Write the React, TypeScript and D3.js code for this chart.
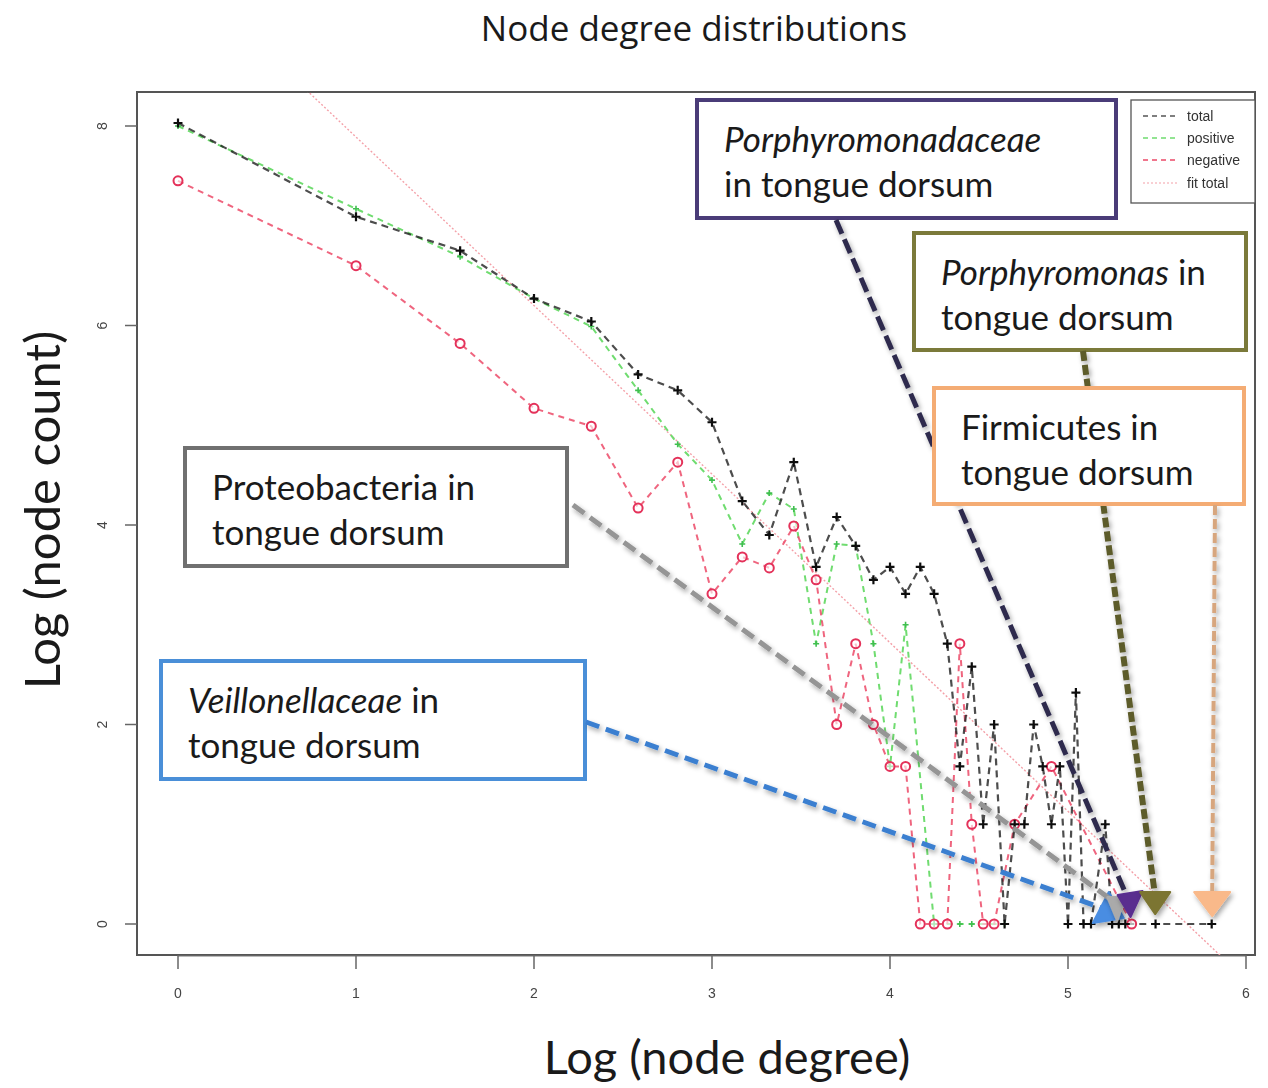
import React from "react";
import * as d3 from "d3";

// ---- data: log2 node degree (x) vs log2 node count (y) ----
const xTicks = [0, 1, 2, 3, 4, 5, 6];
const yTicks = [0, 2, 4, 6, 8];

const totalDegree = [1, 2, 3, 4, 5, 6, 7, 8, 9, 10, 11, 12, 13, 14, 15, 16, 17, 18, 19, 20, 21, 22, 23, 24, 25, 26, 27, 28, 29, 30, 31, 32, 33, 34, 35, 37, 38, 39, 40, 45, 56];
const totalLogCount = [8.03, 7.09, 6.75, 6.27, 6.04, 5.51, 5.35, 5.03, 4.24, 3.9, 4.63, 3.58, 4.08, 3.79, 3.45, 3.58, 3.31, 3.58, 3.31, 2.81, 1.58, 2.58, 1, 2, 0, 1, 1, 2, 1.58, 1, 1.58, 0, 2.32, 0, 0, 1, 0, 0, 0, 0, 0];

const positiveDegree = [1, 2, 3, 4, 5, 6, 7, 8, 9, 10, 11, 12, 13, 14, 15, 16, 17, 19, 21, 22, 25];
const positiveLogCount = [8.0, 7.17, 6.69, 6.27, 5.99, 5.35, 4.81, 4.45, 3.81, 4.32, 4.16, 2.81, 3.81, 3.79, 2.81, 1.58, 3.0, 0, 0, 0, 0];

const negativeDegree = [1, 2, 3, 4, 5, 6, 7, 8, 9, 10, 11, 12, 13, 14, 15, 16, 17, 18, 19, 20, 21, 22, 23, 24, 26, 30, 41];
const negativeLogCount = [7.45, 6.6, 5.82, 5.17, 4.99, 4.17, 4.63, 3.31, 3.68, 3.57, 3.99, 3.45, 2, 2.81, 2, 1.58, 1.58, 0, 0, 0, 2.81, 1, 0, 0, 1, 1.58, 0];

const fitIntercept = 9.58;
const fitSlope = -1.69;

const legendLabels = ["total", "positive", "negative", "fit total"];

type Seg = { text: string; italic?: boolean };
type Note = {
  lines: Seg[][];
  box: [number, number, number, number];
  border: string;
  from: [number, number];
  tip: [number, number]; // data coordinates where the arrow lands
  stroke: string;
  strokeWidth: number;
  dash: string;
  head: string;
  headShape: [number, number][];
};

// annotation callouts
const notes: Note[] = [
  {
    lines: [[{ text: "Veillonellaceae", italic: true }, { text: " in" }], [{ text: "tongue dorsum" }]],
    box: [161, 661, 424, 118],
    border: "#4a8fd8",
    from: [586, 722],
    tip: [5.19, 0.16],
    stroke: "#3b7fd0",
    strokeWidth: 5,
    dash: "14 7",
    head: "#4a8de2",
    headShape: [[-9, 15], [7, -16], [22, 10]],
  },
  {
    lines: [[{ text: "Proteobacteria in" }], [{ text: "tongue dorsum" }]],
    box: [185, 448, 382, 118],
    border: "#707070",
    from: [573, 505],
    tip: [5.26, 0.22],
    stroke: "#959595",
    strokeWidth: 5,
    dash: "14 7",
    head: "#aaaaaa",
    headShape: [[-7, -5], [11, -5], [3, 19]],
  },
  {
    lines: [[{ text: "Porphyromonadaceae", italic: true }], [{ text: "in tongue dorsum" }]],
    box: [697, 100, 419, 118],
    border: "#4a3c78",
    from: [836, 220],
    tip: [5.34, 0.24],
    stroke: "#2e2c4e",
    strokeWidth: 5,
    dash: "15 6",
    head: "#5a2e8f",
    headShape: [[-11, -5], [14, -9], [2, 17]],
  },
  {
    lines: [[{ text: "Porphyromonas", italic: true }, { text: " in" }], [{ text: "tongue dorsum" }]],
    box: [914, 233, 332, 117],
    border: "#7b7a3a",
    from: [1083, 351],
    tip: [5.49, 0.27],
    stroke: "#5d5b2c",
    strokeWidth: 6,
    dash: "10 4",
    head: "#7b7533",
    headShape: [[-15, -5], [15, -5], [0, 17]],
  },
  {
    lines: [[{ text: "Firmicutes in" }], [{ text: "tongue dorsum" }]],
    box: [934, 388, 310, 116],
    border: "#f4ac74",
    from: [1215, 505],
    tip: [5.81, 0.27],
    stroke: "#d7a67e",
    strokeWidth: 4,
    dash: "10 4",
    head: "#f9b98a",
    headShape: [[-18, -5], [18, -5], [0, 19]],
  },
];

const frame = { left: 137, right: 1255, top: 92, bottom: 955 };

export default function App() {
  const x = d3.scaleLinear().domain([0, 6]).range([178, 1246]);
  const y = d3.scaleLinear().domain([0, 8]).range([924, 126]);
  const line = d3
    .line<[number, number]>()
    .x((d) => x(d[0]))
    .y((d) => y(d[1]));

  const toPts = (deg: number[], lc: number[]): [number, number][] =>
    deg.map((k, i) => [Math.log2(k), lc[i]] as [number, number]);

  const total = toPts(totalDegree, totalLogCount);
  const positive = toPts(positiveDegree, positiveLogCount);
  const negative = toPts(negativeDegree, negativeLogCount);
  const fitPts: [number, number][] = [-0.5, 6.5].map((v) => [v, fitIntercept + fitSlope * v]);

  const sans = "Lato, 'Open Sans', sans-serif";
  const narrow = "'Liberation Sans Narrow', 'Liberation Sans', Arial, sans-serif";

  const totalColor = "#1e1e1e";
  const posColor = "#6fdc6f";
  const negColor = "#ec4a68";
  const fitColor = "#f4a0a8";

  const legendY = [116, 138, 160, 183];
  const legendStyles = [
    { c: "#555", dash: "5 4", w: 1.5 },
    { c: posColor, dash: "5 4", w: 1.5 },
    { c: negColor, dash: "5 4", w: 1.5 },
    { c: fitColor, dash: "2 2", w: 1.2 },
  ];

  return (
    <svg
      width={1268}
      height={1088}
      style={{ position: "absolute", left: 0, top: 0, background: "#fff" }}
      fontFamily={sans}
    >
      <defs>
        <clipPath id="plotClip">
          <rect x={frame.left} y={frame.top} width={frame.right - frame.left} height={frame.bottom - frame.top} />
        </clipPath>
        <filter id="shadow" x="-20%" y="-20%" width="140%" height="140%">
          <feDropShadow dx="2" dy="3" stdDeviation="2.5" floodColor="#000" floodOpacity="0.35" />
        </filter>
        <filter id="soft" x="-5%" y="-5%" width="110%" height="110%">
          <feGaussianBlur stdDeviation="0.5" />
        </filter>
      </defs>

      {/* title */}
      <text x={694} y={41} textAnchor="middle" fontSize={35} fontFamily="'Open Sans', Lato, sans-serif" fill="#1a1a1a">
        Node degree distributions
      </text>

      {/* axis titles */}
      <text x={727} y={1074} textAnchor="middle" fontSize={47} fill="#1a1a1a">
        Log (node degree)
      </text>
      <text
        transform={`translate(60,510) rotate(-90)`}
        textAnchor="middle"
        fontSize={49}
        fill="#1a1a1a"
      >
        Log (node count)
      </text>

      <g filter="url(#soft)">
        {/* plot frame */}
        <rect
          x={frame.left}
          y={frame.top}
          width={frame.right - frame.left}
          height={frame.bottom - frame.top}
          fill="none"
          stroke="#555"
          strokeWidth={2}
        />

        {/* x axis */}
        <g>
          <line x1={x(0)} x2={x(6)} y1={frame.bottom + 1} y2={frame.bottom + 1} stroke="#777" strokeWidth={1} />
          {xTicks.map((t) => (
            <g key={t}>
              <line x1={x(t)} x2={x(t)} y1={frame.bottom} y2={frame.bottom + 14} stroke="#666" strokeWidth={1.5} />
              <text x={x(t)} y={998} textAnchor="middle" fontSize={14} fontFamily={narrow} fill="#444">
                {t}
              </text>
            </g>
          ))}
        </g>

        {/* y axis */}
        <g>
          {yTicks.map((t) => (
            <g key={t}>
              <line x1={frame.left - 12} x2={frame.left} y1={y(t)} y2={y(t)} stroke="#666" strokeWidth={1.5} />
              <text
                transform={`translate(${frame.left - 30},${y(t)}) rotate(-90)`}
                textAnchor="middle"
                fontSize={14}
                fontFamily={narrow}
                fill="#444"
              >
                {t}
              </text>
            </g>
          ))}
        </g>

        <g clipPath="url(#plotClip)">
          {/* fitted power-law line */}
          <path d={line(fitPts) || ""} fill="none" stroke={fitColor} strokeWidth={1.4} strokeDasharray="2 2" />

          {/* series lines */}
          <path d={line(positive) || ""} fill="none" stroke={posColor} strokeWidth={2} strokeDasharray="6 5" />
          <path d={line(negative) || ""} fill="none" stroke={negColor} strokeWidth={2} strokeDasharray="6 5" opacity={0.85} />
          <path d={line(total) || ""} fill="none" stroke={totalColor} strokeWidth={2.2} strokeDasharray="7 5" opacity={0.8} />

          {/* markers */}
          {positive.map((d, i) => (
            <path
              key={"p" + i}
              d={`M${x(d[0]) - 3},${y(d[1])}H${x(d[0]) + 3}M${x(d[0])},${y(d[1]) - 3}V${y(d[1]) + 3}`}
              stroke="#3fbf4f"
              strokeWidth={1.6}
            />
          ))}
          {negative.map((d, i) => (
            <circle
              key={"n" + i}
              cx={x(d[0])}
              cy={y(d[1])}
              r={4.5}
              fill="#fff"
              fillOpacity={0.6}
              stroke="#e4325a"
              strokeWidth={2}
            />
          ))}
          {total.map((d, i) => (
            <path
              key={"t" + i}
              d={`M${x(d[0]) - 4.5},${y(d[1])}H${x(d[0]) + 4.5}M${x(d[0])},${y(d[1]) - 4.5}V${y(d[1]) + 4.5}`}
              stroke="#111"
              strokeWidth={2.2}
            />
          ))}
        </g>

        {/* legend */}
        <g>
          <rect x={1131} y={100} width={frame.right - 1131} height={103} fill="#fff" stroke="#555" strokeWidth={1.3} />
          {legendLabels.map((lab, i) => (
            <g key={lab}>
              <line
                x1={1143}
                x2={1178}
                y1={legendY[i]}
                y2={legendY[i]}
                stroke={legendStyles[i].c}
                strokeWidth={legendStyles[i].w}
                strokeDasharray={legendStyles[i].dash}
              />
              <text x={1187} y={legendY[i] + 5} fontSize={14} fontFamily={narrow} fill="#333">
                {lab}
              </text>
            </g>
          ))}
        </g>
      </g>

      {/* callouts */}
      {notes.map((n, i) => {
        const [bx, by, bw, bh] = n.box;
        const tx = x(n.tip[0]);
        const ty = y(n.tip[1]);
        return (
          <g key={"note" + i}>
            <rect x={bx} y={by} width={bw} height={bh} fill="#fff" stroke={n.border} strokeWidth={4} />
            {n.lines.map((segs, li) => (
              <text key={li} x={bx + 27} y={by + 52 + li * 45} fontSize={35} fill="#1a1a1a">
                {segs.map((s, si) => (
                  <tspan key={si} fontStyle={s.italic ? "italic" : "normal"}>
                    {s.text}
                  </tspan>
                ))}
              </text>
            ))}
            <g filter="url(#shadow)">
              <line
                x1={n.from[0]}
                y1={n.from[1]}
                x2={tx}
                y2={ty}
                stroke={n.stroke}
                strokeWidth={n.strokeWidth}
                strokeDasharray={n.dash}
              />
              <polygon
                points={n.headShape.map((p) => `${tx + p[0]},${ty + p[1]}`).join(" ")}
                fill={n.head}
                stroke={n.head}
                strokeWidth={2}
                strokeLinejoin="round"
              />
            </g>
          </g>
        );
      })}
    </svg>
  );
}
